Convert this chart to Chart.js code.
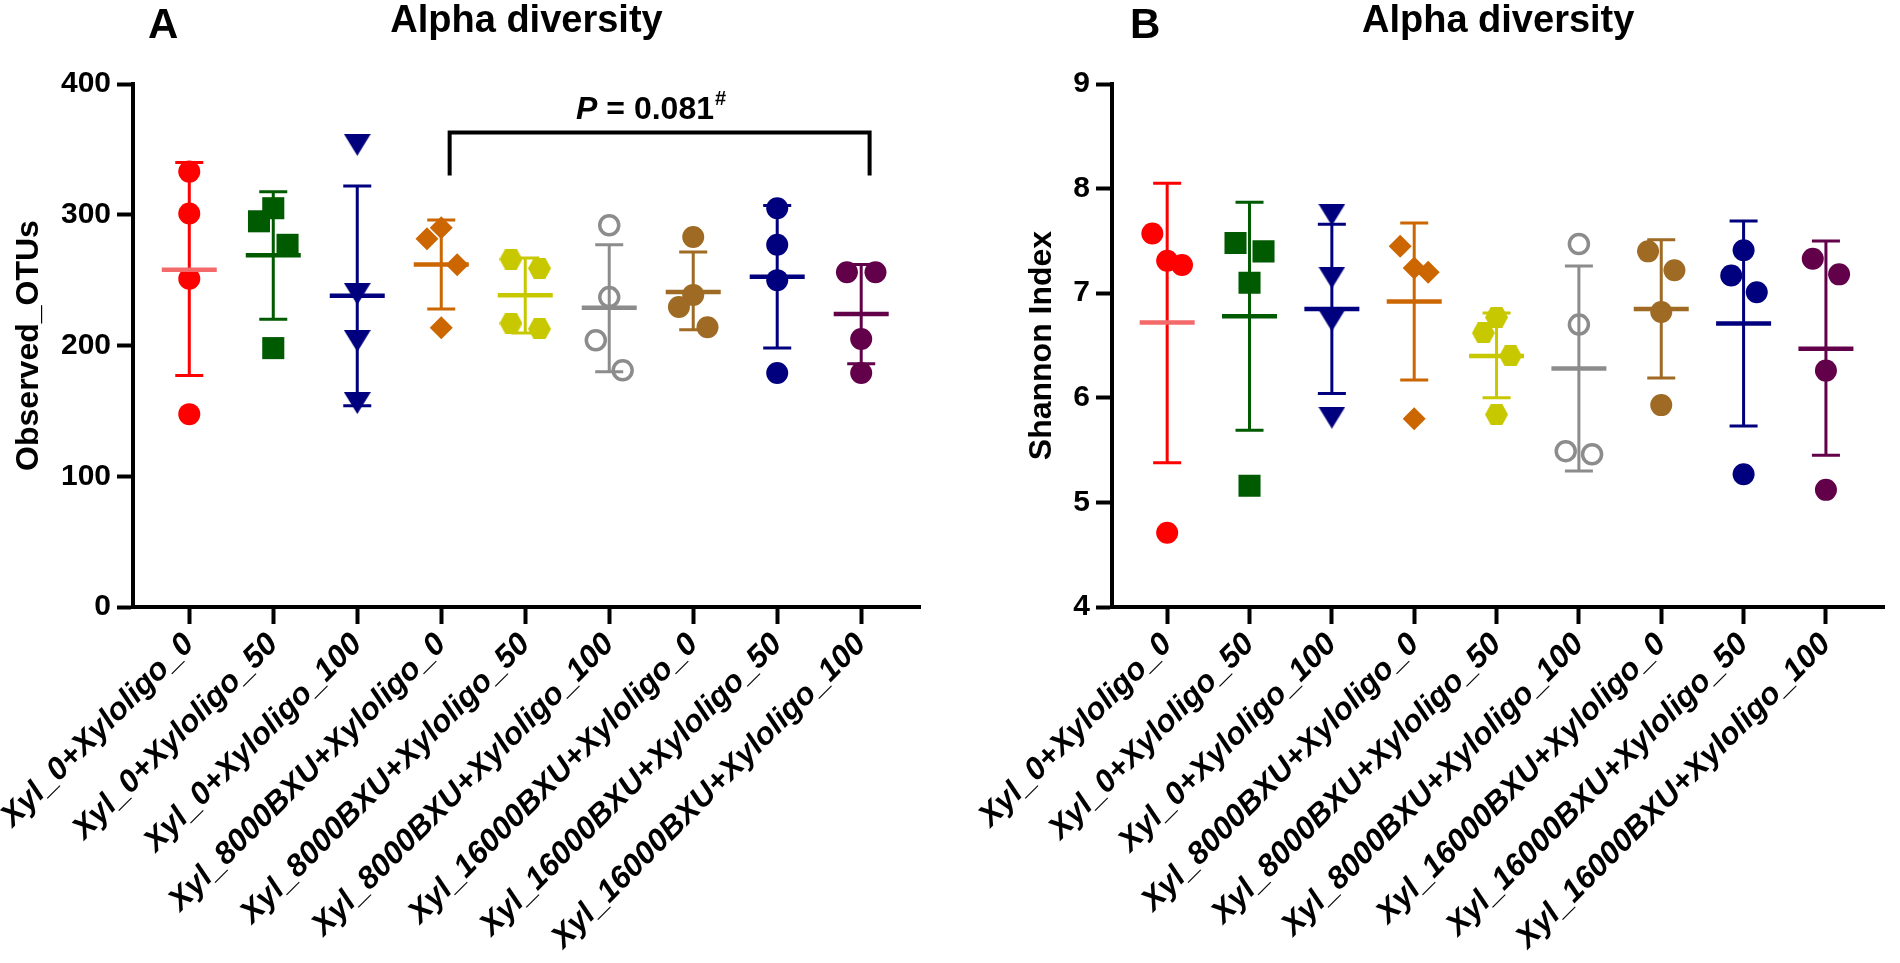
<!DOCTYPE html>
<html>
<head>
<meta charset="utf-8">
<title>Alpha diversity</title>
<script src="https://cdn.jsdelivr.net/npm/chart.js"></script>
<style>
  html, body { margin: 0; padding: 0; background: #fff; }
  #wrap { position: relative; width: 1900px; height: 963px; overflow: hidden; }
  #wrap canvas { position: absolute; top: 0; }
</style>
</head>
<body>
<div id="wrap">
  <canvas id="chartA" width="950" height="963" style="left:0"></canvas>
  <canvas id="chartB" width="950" height="963" style="left:950px"></canvas>
</div>
<script>
// --- data ---
const groups = [
  'Xyl_0+Xyloligo_0', 'Xyl_0+Xyloligo_50', 'Xyl_0+Xyloligo_100',
  'Xyl_8000BXU+Xyloligo_0', 'Xyl_8000BXU+Xyloligo_50', 'Xyl_8000BXU+Xyloligo_100',
  'Xyl_16000BXU+Xyloligo_0', 'Xyl_16000BXU+Xyloligo_50', 'Xyl_16000BXU+Xyloligo_100'
];

// panel A: Observed_OTUs (4 animals per group)
const otuValues = [
  [333, 301, 251, 147.5],
  [295, 305, 277, 198],
  [353.5, 239.5, 203.5, 156],
  [281.6, 290, 261.7, 213.5],
  [266, 259, 217, 212.7],
  [292, 237, 204, 181],
  [283, 238.7, 229.5, 214],
  [305, 277, 250, 179],
  [256, 256, 205, 179]
];
const otuSpread = [
  [0, 0, 0, 0],
  [-0.17, 0, 0.17, 0],
  [0, 0, 0, 0],
  [-0.17, 0, 0.19, 0],
  [-0.17, 0.17, -0.17, 0.17],
  [0, 0, -0.16, 0.16],
  [0, 0, -0.17, 0.17],
  [0, 0, 0, 0],
  [-0.17, 0.17, 0, 0]
];
const otuMean = [258, 269, 238, 262, 238.5, 228.8, 241, 252.5, 224];
const otuSdHigh = [340, 317.5, 322, 296, 267, 277, 271.6, 307, 262];
const otuSdLow = [177, 220, 154, 228, 209.6, 180, 212, 198, 186];
const otuTicks = [0, 100, 200, 300, 400];
const otuBracket = [3.1, 8.1];      // category span of the comparison bracket
const otuBracketY = [330, 363];     // leg end, bar level
const otuPText = 'P = 0.081';

// panel B: Shannon Index
const shannonValues = [
  [7.57, 7.31, 7.27, 4.71],
  [7.48, 7.40, 7.10, 5.16],
  [7.75, 7.15, 6.74, 5.81],
  [7.45, 7.24, 7.20, 5.80],
  [6.62, 6.77, 6.40, 5.84],
  [7.47, 6.70, 5.49, 5.46],
  [7.40, 7.22, 6.82, 5.93],
  [7.41, 7.17, 7.01, 5.27],
  [7.33, 7.18, 6.26, 5.12]
];
const shannonSpread = [
  [-0.18, 0, 0.18, 0],
  [-0.17, 0.17, 0, 0],
  [0, 0, 0, 0],
  [-0.17, 0, 0.17, 0],
  [-0.16, 0, 0.17, 0],
  [0, 0, -0.16, 0.16],
  [-0.16, 0.16, 0, 0],
  [0, -0.15, 0.16, 0],
  [-0.16, 0.16, 0, 0]
];
const shannonMean = [6.72, 6.78, 6.85, 6.92, 6.40, 6.28, 6.85, 6.71, 6.47];
const shannonSdHigh = [8.05, 7.87, 7.66, 7.67, 6.81, 7.26, 7.51, 7.69, 7.50];
const shannonSdLow = [5.38, 5.69, 6.04, 6.17, 6.00, 5.30, 6.19, 5.73, 5.45];
const shannonTicks = [4, 5, 6, 7, 8, 9];

// --- styling ---
const groupColors = ['#ff0000', '#005a00', '#00007f', '#cc6600', '#c8c800', '#8c8c8c', '#9e6a24', '#00007f', '#62004a'];
const meanColors = ['#f46a6a', '#005a00', '#00007f', '#cc6600', '#c8c800', '#8c8c8c', '#9e6a24', '#00007f', '#62004a'];
const FONT = 'Arial, "Liberation Sans", Helvetica, sans-serif';

Chart.defaults.font.family = FONT;
Chart.defaults.color = '#000';

function makeMarker(w, h, color, pts) {
    const c = document.createElement('canvas');
    c.width = w;
    c.height = h;
    const g = c.getContext('2d');
    g.fillStyle = color;
    g.beginPath();
    pts.forEach(([px, py], k) => k ? g.lineTo(px * w, py * h) : g.moveTo(px * w, py * h));
    g.closePath();
    g.fill();
    return c;
}
const triDown = makeMarker(27, 22, groupColors[2], [[0, 0], [1, 0], [0.5, 1]]);
const hexagon = makeMarker(23, 21, groupColors[4], [[0.25, 0], [0.75, 0], [1, 0.5], [0.75, 1], [0.25, 1], [0, 0.5]]);

const markerStyle = ['circle', 'rect', triDown, 'rectRot', hexagon, 'circle', 'circle', 'circle', 'circle'];
const markerRadius = [11, 15.6, 12, 11.5, 11, 9.5, 11, 11, 11];

function buildDatasets(values, spread) {
    return groups.map((g, i) => ({
        label: g,
        data: values[i].map((v, j) => ({ x: i + spread[i][j], y: v })),
        pointStyle: markerStyle[i],
        pointRadius: markerRadius[i],
        pointHoverRadius: markerRadius[i],
        backgroundColor: i === 5 ? 'rgba(0,0,0,0)' : groupColors[i],
        borderColor: groupColors[i],
        borderWidth: i === 5 ? 3.5 : 0,
        pointHoverBorderWidth: i === 5 ? 3.5 : 0
    }));
}

// --- mean and SD bars, drawn through the chart's own scales ---
const meanSdBars = {
    id: 'meanSdBars',
    afterDatasetsDraw(chart, args, opts) {
        const { ctx, scales: { x, y } } = chart;
        ctx.save();
        ctx.lineCap = 'butt';
        opts.mean.forEach((m, i) => {
            const px = x.getPixelForValue(i);
            const top = y.getPixelForValue(opts.high[i]);
            const bot = y.getPixelForValue(opts.low[i]);
            const mid = y.getPixelForValue(m);
            ctx.strokeStyle = groupColors[i];
            ctx.lineWidth = 3;
            ctx.beginPath();
            ctx.moveTo(px, top); ctx.lineTo(px, bot);
            ctx.moveTo(px - 14, top); ctx.lineTo(px + 14, top);
            ctx.moveTo(px - 14, bot); ctx.lineTo(px + 14, bot);
            ctx.stroke();
            ctx.strokeStyle = meanColors[i];
            ctx.lineWidth = 4.5;
            ctx.beginPath();
            ctx.moveTo(px - 27.5, mid); ctx.lineTo(px + 27.5, mid);
            ctx.stroke();
        });
        ctx.restore();
    }
};

// --- panel letter, heading and the significance bracket ---
const panelText = {
    id: 'panelText',
    afterDraw(chart, args, opts) {
        const { ctx, chartArea, scales: { x, y } } = chart;
        ctx.save();
        ctx.fillStyle = '#000';
        ctx.textBaseline = 'alphabetic';
        ctx.textAlign = 'left';
        ctx.font = `bold 42px ${FONT}`;
        ctx.fillText(opts.letter, opts.letterX, 38);
        ctx.textAlign = 'center';
        ctx.font = `bold 38px ${FONT}`;
        ctx.fillText(opts.title, (chartArea.left + chartArea.right) / 2, 32);

        if (opts.bracket) {
            const x1 = x.getPixelForValue(opts.bracket[0]);
            const x2 = x.getPixelForValue(opts.bracket[1]);
            const yLeg = y.getPixelForValue(opts.bracketY[0]);
            const yBar = y.getPixelForValue(opts.bracketY[1]);
            ctx.strokeStyle = '#000';
            ctx.lineWidth = 4;
            ctx.lineJoin = 'miter';
            ctx.beginPath();
            ctx.moveTo(x1, yLeg); ctx.lineTo(x1, yBar); ctx.lineTo(x2, yBar); ctx.lineTo(x2, yLeg);
            ctx.stroke();

            // "P" italic, rest upright, "#" as superscript
            const [pLetter, rest] = [opts.pText.slice(0, 1), opts.pText.slice(1)];
            ctx.textAlign = 'left';
            ctx.font = `italic bold 32px ${FONT}`;
            const w1 = ctx.measureText(pLetter).width;
            ctx.font = `bold 32px ${FONT}`;
            const w2 = ctx.measureText(rest).width;
            ctx.font = `bold 20px ${FONT}`;
            const w3 = ctx.measureText('#').width;
            let tx = (x1 + x2) / 2 - (w1 + w2 + w3) / 2 - 9;
            const base = yBar - 13;
            ctx.font = `italic bold 32px ${FONT}`;
            ctx.fillText(pLetter, tx, base);
            tx += w1;
            ctx.font = `bold 32px ${FONT}`;
            ctx.fillText(rest, tx, base);
            tx += w2 + 1;
            ctx.font = `bold 20px ${FONT}`;
            ctx.fillText('#', tx, base - 14);
        }
        ctx.restore();
    }
};

function makeOptions(cfg) {
    return {
        responsive: false,
        animation: false,
        events: [],
        layout: { padding: { top: 84, left: 0, right: cfg.padRight, bottom: 0 } },
        scales: {
            x: {
                type: 'linear',
                min: -0.67,
                max: cfg.xMax,
                afterBuildTicks: axis => { axis.ticks = groups.map((g, i) => ({ value: i })); },
                afterFit: axis => { axis.height = 356; axis.paddingLeft = 0; axis.paddingRight = 0; },
                ticks: {
                    autoSkip: false,
                    minRotation: 45,
                    maxRotation: 45,
                    padding: 2,
                    color: '#000',
                    font: { size: 31.5, weight: 'bold', style: 'italic' },
                    callback: v => groups[v]
                },
                grid: { drawOnChartArea: false, drawTicks: true, tickLength: 17, tickWidth: 4, tickColor: '#000' },
                border: { display: true, color: '#000', width: 4 }
            },
            y: {
                min: cfg.ticks[0],
                max: cfg.ticks[cfg.ticks.length - 1],
                afterBuildTicks: axis => { axis.ticks = cfg.ticks.map(v => ({ value: v })); },
                afterFit: axis => { axis.width = cfg.yWidth; axis.paddingTop = 0; axis.paddingBottom = 0; },
                ticks: { padding: 6, color: '#000', font: { size: 30, weight: 'bold' } },
                grid: { drawOnChartArea: false, drawTicks: true, tickLength: 16, tickWidth: 4, tickColor: '#000' },
                border: { display: true, color: '#000', width: 4 },
                title: {
                    display: true,
                    text: cfg.yTitle,
                    color: '#000',
                    font: { size: 32, weight: 'bold' },
                    padding: { top: cfg.titlePad, bottom: 0 }
                }
            }
        },
        plugins: {
            legend: { display: false },
            title: { display: false },
            tooltip: { enabled: false },
            meanSdBars: { mean: cfg.mean, high: cfg.high, low: cfg.low },
            panelText: cfg.text
        }
    };
}

new Chart(document.getElementById('chartA'), {
    type: 'scatter',
    data: { datasets: buildDatasets(otuValues, otuSpread) },
    options: makeOptions({
        padRight: 30, xMax: 8.70, yWidth: 133, ticks: otuTicks, yTitle: 'Observed_OTUs', titlePad: 10,
        mean: otuMean, high: otuSdHigh, low: otuSdLow,
        text: { letter: 'A', letterX: 148, title: 'Alpha diversity', bracket: otuBracket, bracketY: otuBracketY, pText: otuPText }
    }),
    plugins: [meanSdBars, panelText]
});

new Chart(document.getElementById('chartB'), {
    type: 'scatter',
    data: { datasets: buildDatasets(shannonValues, shannonSpread) },
    options: makeOptions({
        padRight: 0, xMax: 8.71, yWidth: 162, ticks: shannonTicks, yTitle: 'Shannon Index', titlePad: 73,
        mean: shannonMean, high: shannonSdHigh, low: shannonSdLow,
        text: { letter: 'B', letterX: 180, title: 'Alpha diversity' }
    }),
    plugins: [meanSdBars, panelText]
});
</script>
</body>
</html>
